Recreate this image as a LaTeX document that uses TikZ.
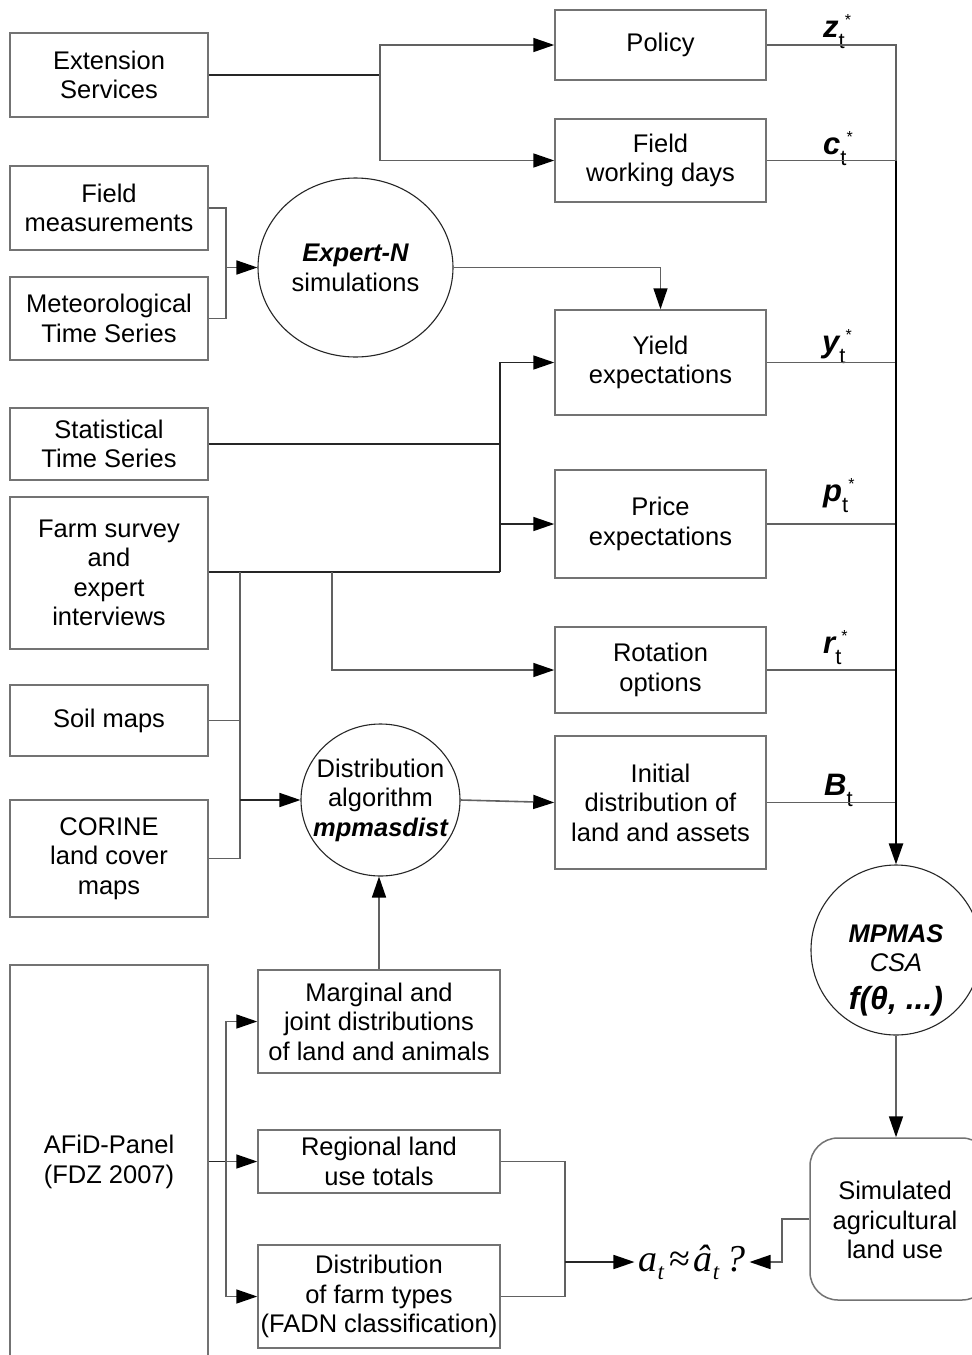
\documentclass[tikz,border=0pt]{standalone}
\usepackage{fontspec}
\setmainfont{Liberation Sans}
\newfontfamily\serifformula{Liberation Serif}
\usetikzlibrary{arrows.meta,shapes.geometric}
\newcommand{\vlab}[2]{{\fontsize{31}{31}\selectfont\bfseries\itshape #1}\raisebox{-11pt}{\fontsize{22}{22}\selectfont t}\raisebox{12pt}{\fontsize{16}{16}\selectfont #2}}
\newcommand{\subt}{\raisebox{-8pt}{\fontsize{23}{23}\selectfont t}}
\begin{document}
\begin{tikzpicture}[x=1pt,y=-1pt,
  box/.style={draw=black!55, line width=1.5pt, rectangle, align=center, inner sep=0pt, font=\fontsize{25.5}{29.5}\selectfont},
  ell/.style={draw=black!85, line width=1.1pt, ellipse, inner sep=0pt},
  txt/.style={align=center, inner sep=0pt, font=\fontsize{25.5}{29.5}\selectfont},
  conn/.style={draw=black!62, line width=1.6pt},
  arr/.style={conn, -{Triangle[length=21pt,width=14pt,color=black]}},
  lab/.style={anchor=base west, inner sep=0pt}]
\path[use as bounding box, clip] (0,0) rectangle (972,1355);
\fill[white] (0,0) rectangle (972,1355);
% left column
\node[box, minimum width=198pt, minimum height=84pt] (ext) at (109,75) {Extension\\Services};
\node[box, minimum width=198pt, minimum height=84pt] (fm) at (109,208) {Field\\measurements};
\node[box, minimum width=198pt, minimum height=83pt] (met) at (109,318.5) {Meteorological\\Time Series};
\node[box, minimum width=198pt, minimum height=72pt] (stat) at (109,444) {Statistical\\Time Series};
\node[box, minimum width=198pt, minimum height=152pt] (farm) at (109,573) {Farm survey\\and\\expert\\interviews};
\node[box, minimum width=198pt, minimum height=71pt] (soil) at (109,720.5) {Soil maps};
\node[box, minimum width=198pt, minimum height=117pt] (corine) at (109,858.5) {CORINE\\land cover\\maps};
\node[box, minimum width=198pt, minimum height=394pt] (afid) at (109,1162) {AFiD-Panel\\(FDZ 2007)};
% right column
\node[box, minimum width=211pt, minimum height=70pt] (policy) at (660.5,45) {Policy};
\node[box, minimum width=211pt, minimum height=83pt] (fwd) at (660.5,160.5) {Field\\working days};
\node[box, minimum width=211pt, minimum height=105pt] (yield) at (660.5,362.5) {Yield\\expectations};
\node[box, minimum width=211pt, minimum height=108pt] (price) at (660.5,524) {Price\\expectations};
\node[box, minimum width=211pt, minimum height=86pt] (rot) at (660.5,670) {Rotation\\options};
\node[box, minimum width=211pt, minimum height=133pt] (init) at (660.5,802.5) {Initial\\distribution of\\land and assets};
% bottom middle
\node[box, minimum width=242pt, minimum height=103pt] (marg) at (379,1021.5) {Marginal and\\joint distributions\\of land and animals};
\node[box, minimum width=242pt, minimum height=63pt] (reg) at (379,1161.5) {Regional land\\use totals};
\node[box, minimum width=242pt, minimum height=103pt] (dft) at (379,1296.5) {Distribution\\of farm types\\(FADN classification)};
% ellipses
\node[ell, minimum width=195pt, minimum height=179pt] (expn) at (355.5,267.5) {};
\node[txt] (expnt) at (355.5,268) {{\bfseries\itshape Expert-N}\\simulations};
\node[ell, minimum width=159pt, minimum height=152pt] (distc) at (380.5,800) {};
\node[txt] (distt) at (380.5,800) {Distribution\\algorithm\\{\bfseries\itshape mpmasdist}};
\node[ell, minimum width=170pt, minimum height=170pt] (mpmas) at (896,950) {};
\node[txt] (mpmast) at (896,970) {{\bfseries\itshape MPMAS}\\{\itshape CSA}\\[8pt]{\fontsize{32}{32}\selectfont\bfseries\itshape f(θ, ...)}};
% simulated
\node[draw=black!55, line width=1.5pt, rectangle, rounded corners=28pt, minimum width=180pt, minimum height=162pt, inner sep=0pt] (sim) at (900,1219) {};
\node[txt] (simt) at (895,1220) {Simulated\\agricultural\\land use};
% formula
\node[inner sep=4pt, font=\serifformula\fontsize{38}{38}\selectfont] (form) at (692,1262) {\itshape a\subt\kern5pt{\upshape ≈}\kern4ptâ\subt\kern7pt?};
% labels
\node[lab] (lz) at (823,37) {\vlab{z}{*}};
\node[lab] (lc) at (823,154) {\vlab{c}{*}};
\node[lab] (ly) at (822,352) {\vlab{y}{*}};
\node[lab] (lp) at (823,501) {\vlab{p}{*}};
\node[lab] (lr) at (823,653) {\vlab{r}{*}};
\node[lab] (lB) at (824,795) {\vlab{B}{}};
% connectors
\coordinate (j1) at (380,75);
\draw[conn, draw=black!85] (ext.east) -- (j1);
\draw[arr] (j1) |- (policy.west);
\draw[arr] (j1) |- (fwd.west);
\coordinate (j2) at (226,267.5);
\draw[conn] (fm.east) -| (j2);
\draw[conn] (met.east) -| (j2);
\draw[arr] (j2) -- (expn.west);
\draw[arr] (expn.east) -| (yield.north);
\coordinate (j4) at (500,572);
\draw[conn, draw=black!85] (stat.east) -- (stat.east -| j4);
\draw[conn, draw=black!85] (farm.east |- j4) -- (j4);
\draw[arr, draw=black!85] (j4) |- (yield.west);
\draw[arr, draw=black!85] (j4) |- (price.west);
\coordinate (j5) at (332,572);
\draw[arr] (j5) |- (rot.west);
\coordinate (j6) at (240,572);
\coordinate (j7) at (240,800);
\draw[conn] (j6) -- (j7);
\draw[conn] (soil.east) -| (j7);
\draw[conn] (corine.east) -| (j7);
\draw[arr, draw=black!85] (j7) -- (distc.west);
\draw[arr] (distc.east) -- (init.west);
\draw[arr] (marg.north) -- (marg.north |- distc.south);
\coordinate (j9) at (226,1161.5);
\draw[conn, draw=black!85] (afid.east |- j9) -- (j9);
\draw[arr] (j9) |- (marg.west);
\draw[arr] (j9) -- (reg.west);
\draw[arr] (j9) |- (dft.west);
\coordinate (j10) at (565,1262);
\draw[conn] (reg.east) -| (j10);
\draw[conn] (dft.east) -| (j10);
\draw[arr, draw=black!85] (j10) -- (form.west);
% bus
\coordinate (b1) at (896,45);
\coordinate (b2) at (896,160.5);
\draw[conn] (policy.east) -- (b1) -- (b2);
\draw[conn] (fwd.east) -- (b2);
\draw[conn] (yield.east) -- (yield.east -| b1);
\draw[conn] (price.east) -- (price.east -| b1);
\draw[conn] (rot.east) -- (rot.east -| b1);
\draw[conn] (init.east) -- (init.east -| b1);
\draw[arr, draw=black, line width=2.5pt] (b2) -- (mpmas.north);
\draw[arr] (mpmas.south) -- (mpmas.south |- sim.north);
\coordinate (j13) at (782,1262);
\draw[arr] (sim.west) -| (j13) -- (form.east);
\end{tikzpicture}
\end{document}
